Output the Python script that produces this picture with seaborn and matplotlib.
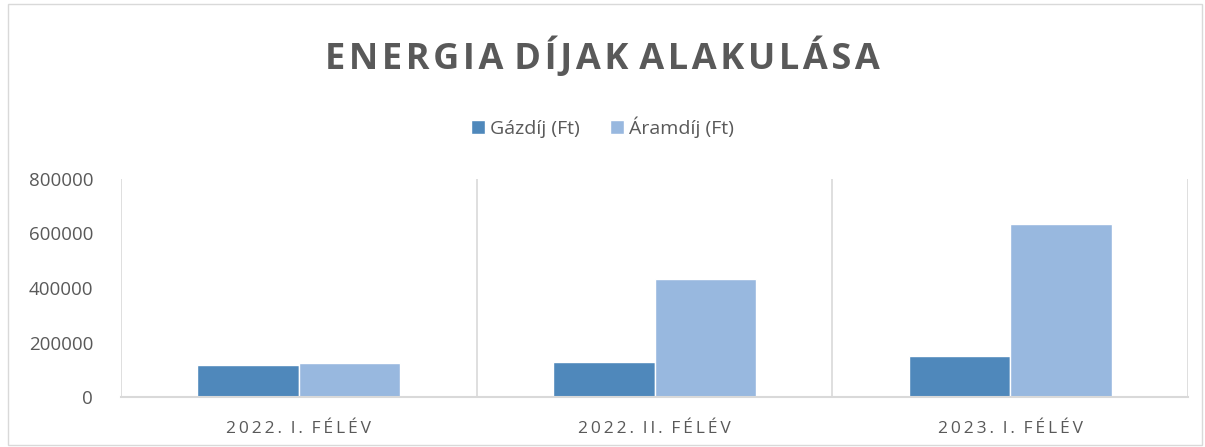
import pandas as pd
import matplotlib.pyplot as plt
import seaborn as sns
from matplotlib.patches import Rectangle

# Data
periods = ['2022. I. FÉLÉV', '2022. II. FÉLÉV', '2023. I. FÉLÉV']
gaz = [117000, 127000, 149000]
aram = [124000, 432000, 635000]
series_names = ['Gázdíj (Ft)', 'Áramdíj (Ft)']
title = 'ENERGIA DÍJAK ALAKULÁSA'

df = pd.DataFrame({'period': periods * 2,
                   'value': gaz + aram,
                   'series': [series_names[0]] * 3 + [series_names[1]] * 3})

sns.set_style('white')
plt.rcParams['font.family'] = ['Open Sans', 'DejaVu Sans']
grey = '#595959'


def spaced(s, sp='\u2009'):
    # emulate letter spacing with narrow spaces
    return sp.join(list(s)).replace(sp + ' ' + sp, sp * 3)


fig = plt.figure(figsize=(12.05, 4.47), dpi=100)
ax = fig.add_axes([121 / 1205, 50 / 447, (1188 - 121) / 1205, (397 - 179) / 447])

sns.barplot(data=df, x='period', y='value', hue='series',
            palette=['#4f88bb', '#98b8df'], width=0.57, gap=0,
            saturation=1, ax=ax, legend=True)

ax.set_ylim(0, 800000)
ax.set_xlim(-0.5, 2.5)
ax.set_yticks([0, 200000, 400000, 600000, 800000])
ax.set_yticklabels(['0', '200000', '400000', '600000', '800000'],
                   fontsize=13.5, color=grey)
ax.tick_params(axis='y', length=0, pad=20)
ax.tick_params(axis='x', length=0, pad=17)
ax.set_xticks(range(len(periods)))
ax.set_xticklabels([spaced(p) for p in periods], fontsize=12.5, color=grey)
ax.set_xlabel('')
ax.set_ylabel('')

# vertical separators between categories
for x in [-0.5, 0.5, 1.5, 2.5]:
    ax.axvline(x, color='#d9d9d9', lw=1.2, zorder=0)
for s in ['top', 'right', 'left']:
    ax.spines[s].set_visible(False)
ax.spines['bottom'].set_color('#d9d9d9')
ax.spines['bottom'].set_linewidth(1.5)

ax.legend(loc='center', bbox_to_anchor=(0.5, 1 - 127 / 447), bbox_transform=fig.transFigure,
          ncol=2, frameon=False, fontsize=14, handlelength=0.7, handleheight=0.7,
          handletextpad=0.25, columnspacing=1.6, labelcolor=grey)

fig.text(0.5, 1 - 58 / 447, spaced(title, '\u200a'), ha='center', va='center',
         fontsize=26, fontweight='bold', color=grey)

# outer chart border
fig.patches.append(Rectangle((8 / 1205, 0.005), 1194 / 1205, 0.985, transform=fig.transFigure,
                             fill=False, edgecolor='#d9d9d9', lw=1))

fig.savefig('out.png', dpi=100)
